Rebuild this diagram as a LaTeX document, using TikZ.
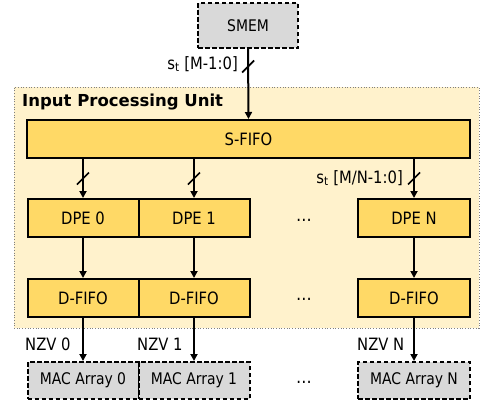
\documentclass[tikz,border=0pt]{standalone}
\usepackage{fontspec}
\setmainfont{DejaVu Sans}[FakeStretch=0.87]
\newfontfamily\boldfam{DejaVu Sans Bold}
\usetikzlibrary{arrows.meta}
\definecolor{gold}{HTML}{FFD966}
\definecolor{pale}{HTML}{FFF2CC}
\definecolor{lgray}{HTML}{D9D9D9}
\tikzset{
  unitbox/.style={draw=black, line width=2pt, fill=gold, minimum height=38pt, inner sep=0pt, font=\fontsize{17}{19}\selectfont},
  membox/.style={draw=black, line width=2pt, dash pattern=on 4.5pt off 2.5pt, fill=lgray, inner sep=0pt, font=\fontsize{16}{18}\selectfont},
  conn/.style={line width=2pt, -{Triangle[length=7pt,width=7pt]}},
  slashline/.style={line width=1.7pt},
  lbl/.style={inner sep=0pt, font=\fontsize{17}{19}\selectfont},
  dotslbl/.style={inner sep=0pt, font=\fontsize{18}{19}\selectfont}
}
\begin{document}
\begin{tikzpicture}[x=1pt, y=-1pt]
\useasboundingbox (0,0) rectangle (481,407);
% Input processing unit background
\node[draw=gray, dotted, line width=0.7pt, fill=pale, minimum width=465pt, minimum height=241pt, inner sep=0pt] (ipu) at (246.5,207.5) {};
\node[anchor=west, inner sep=0pt, font=\boldfam\fontsize{16.5}{18}\selectfont] (ipulbl) at (22,102.5) {Input Processing Unit};
% boxes
\node[membox, minimum width=100pt, minimum height=45pt] (smem) at (248,25.5) {SMEM};
\node[unitbox, minimum width=443pt] (sfifo) at (248.5,139) {S-FIFO};
\node[unitbox, minimum width=111pt] (dpe0) at (83,218) {DPE 0};
\node[unitbox, minimum width=111pt] (dpe1) at (194,218) {DPE 1};
\node[unitbox, minimum width=112pt] (dpen) at (414,218) {DPE N};
\node[unitbox, minimum width=111pt] (df0) at (83,298) {D-FIFO};
\node[unitbox, minimum width=111pt] (df1) at (194,298) {D-FIFO};
\node[unitbox, minimum width=112pt] (dfn) at (414,298) {D-FIFO};
\node[membox, minimum width=111pt, minimum height=37pt] (mac0) at (83,380.5) {MAC Array 0};
\node[membox, minimum width=111pt, minimum height=37pt] (mac1) at (194,380.5) {MAC Array 1};
\node[membox, minimum width=112pt, minimum height=37pt] (macn) at (414,380.5) {MAC Array N};
% dots
\node[dotslbl] (d1) at (304,220) {…};
\node[dotslbl] (d2) at (304,299) {…};
\node[dotslbl] (d3) at (304,382) {…};
% connectors
\draw[conn] (smem.south) -- (sfifo.north) coordinate[pos=0.25] (st);
\draw[conn] (sfifo.south -| dpe0.north) -- (dpe0.north) coordinate[pos=0.5] (s0);
\draw[conn] (sfifo.south -| dpe1.north) -- (dpe1.north) coordinate[pos=0.5] (s1);
\draw[conn] (sfifo.south -| dpen.north) -- (dpen.north) coordinate[pos=0.5] (sn);
\draw[conn] (dpe0) -- (df0);
\draw[conn] (dpe1) -- (df1);
\draw[conn] (dpen) -- (dfn);
\draw[conn] (df0) -- (mac0);
\draw[conn] (df1) -- (mac1);
\draw[conn] (dfn) -- (macn);
% slashes
\foreach \c in {st,s0,s1,sn}{
  \draw[slashline] ([shift={(-6,6)}]\c) -- ([shift={(6,-6)}]\c);
}
% labels
\node[lbl, anchor=east] (lt) at (238,64) {s\textsubscript{t} [M-1:0]};
\node[lbl, anchor=east] (ln) at (403,178) {s\textsubscript{t} [M/N-1:0]};
\node[lbl, anchor=west] (n0) at (25,344) {NZV 0};
\node[lbl, anchor=west] (n1) at (137,344) {NZV 1};
\node[lbl, anchor=west] (nn) at (357,344) {NZV N};
\end{tikzpicture}
\end{document}
